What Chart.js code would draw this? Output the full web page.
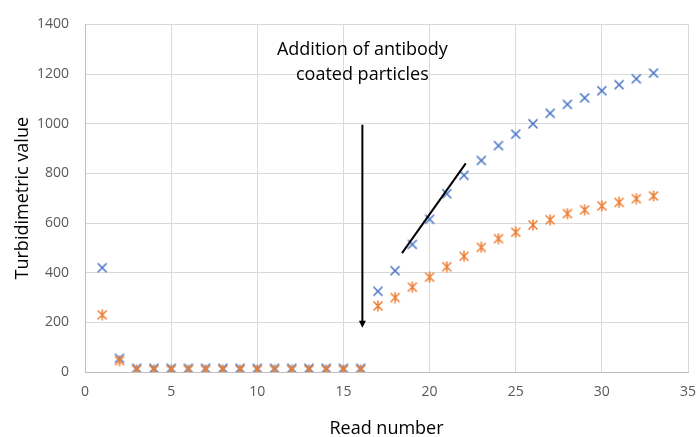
<!DOCTYPE html>
<html>
<head>
<meta charset="utf-8">
<script src="https://cdn.jsdelivr.net/npm/chart.js@4"></script>
<style>
  html, body { margin: 0; padding: 0; background: #fff; }
  #wrap { width: 696px; height: 437px; }
</style>
</head>
<body>
<div id="wrap"><canvas id="chart" width="696" height="437"></canvas></div>
<script>
// read numbers 1..33
const readNumbers = [1,2,3,4,5,6,7,8,9,10,11,12,13,14,15,16,17,18,19,20,21,22,23,24,25,26,27,28,29,30,31,32,33];
// blue series (x markers)
const seriesA = [420,55,15,15,15,15,15,15,15,15,15,15,15,15,15,15,325,408,514,615,718,792,852,912,958,1000,1042,1078,1104,1133,1157,1181,1204];
// orange series (asterisk markers)
const seriesB = [230,46,9,9,9,9,9,9,9,9,9,9,9,9,9,9,266,300,342,382,424,466,502,537,563,592,613,638,653,669,683,698,709];
const xTicks = [0,5,10,15,20,25,30,35];
const yTicks = [0,200,400,600,800,1000,1200,1400];

// annotations (data coordinates)
const noteLines = ['Addition of antibody', 'coated particles'];
const noteAt = { x: 16.1, y: [1297, 1197] };
const arrowLine = { x: 16.1, from: 996, to: 178 };
const slopeLine = [{ x: 18.4, y: 479 }, { x: 22.1, y: 840 }];

// marker images
function makeMarker(color, asterisk) {
  const c = document.createElement('canvas');
  c.width = 12; c.height = 12;
  const g = c.getContext('2d');
  g.strokeStyle = color;
  g.lineWidth = 1.5;
  g.beginPath();
  g.moveTo(1.5, 1.5); g.lineTo(10.5, 10.5);
  g.moveTo(10.5, 1.5); g.lineTo(1.5, 10.5);
  if (asterisk) { g.moveTo(6, 0.5); g.lineTo(6, 11.5); }
  g.stroke();
  return c;
}
const blueMark = makeMarker('#4472C4', false);
const orangeMark = makeMarker('#ED7D31', true);

const notes = {
  id: 'notes',
  afterDatasetsDraw(chart) {
    const { ctx, scales: { x, y } } = chart;
    ctx.save();
    ctx.fillStyle = '#000';
    ctx.font = '18px "Open Sans"';
    ctx.textAlign = 'center';
    ctx.textBaseline = 'middle';
    noteLines.forEach((t, i) => ctx.fillText(t, x.getPixelForValue(noteAt.x), y.getPixelForValue(noteAt.y[i])));

    // arrow
    const ax = x.getPixelForValue(arrowLine.x);
    const ay0 = y.getPixelForValue(arrowLine.from);
    const ay1 = y.getPixelForValue(arrowLine.to);
    ctx.strokeStyle = '#000';
    ctx.lineWidth = 2;
    ctx.beginPath();
    ctx.moveTo(ax, ay0); ctx.lineTo(ax, ay1 - 6);
    ctx.stroke();
    ctx.beginPath();
    ctx.moveTo(ax - 3.5, ay1 - 7); ctx.lineTo(ax + 3.5, ay1 - 7); ctx.lineTo(ax, ay1);
    ctx.closePath();
    ctx.fill();

    // slope line
    ctx.beginPath();
    ctx.moveTo(x.getPixelForValue(slopeLine[0].x), y.getPixelForValue(slopeLine[0].y));
    ctx.lineTo(x.getPixelForValue(slopeLine[1].x), y.getPixelForValue(slopeLine[1].y));
    ctx.stroke();
    ctx.restore();
  }
};

const pts = arr => arr.map((v, i) => ({ x: readNumbers[i], y: v }));

new Chart(document.getElementById('chart'), {
  type: 'scatter',
  data: {
    datasets: [
      { label: 'A', data: pts(seriesA), pointStyle: blueMark, order: 1 },
      { label: 'B', data: pts(seriesB), pointStyle: orangeMark, order: 0 }
    ]
  },
  options: {
    responsive: false,
    animation: false,
    layout: { padding: { top: 21, right: 0, left: 0, bottom: 0 } },
    plugins: { legend: { display: false }, tooltip: { enabled: false } },
    scales: {
      x: {
        type: 'linear', min: 0, max: 35,
        afterBuildTicks: s => { s.ticks = xTicks.map(v => ({ value: v })); },
        afterFit: s => { s.height = 65; s.paddingRight = 8; },
        grid: { color: '#d9d9d9', drawTicks: false },
        border: { color: '#bfbfbf' },
        ticks: { color: '#595959', font: { family: 'Open Sans', size: 14 }, padding: 12, callback: v => String(v) },
        title: { display: true, text: 'Read number', color: '#000', font: { family: 'Open Sans', size: 18 }, padding: { top: 0, bottom: -3 } }
      },
      y: {
        type: 'linear', min: 0, max: 1400,
        afterBuildTicks: s => { s.ticks = yTicks.map(v => ({ value: v })); },
        afterFit: s => { s.width = 85; },
        grid: { color: '#d9d9d9', drawTicks: false },
        border: { color: '#bfbfbf' },
        ticks: { color: '#595959', font: { family: 'Open Sans', size: 14 }, padding: 16, callback: v => String(v) },
        title: { display: true, text: 'Turbidimetric value', color: '#000', font: { family: 'Open Sans', size: 18 }, padding: { top: 12, bottom: 0 } }
      }
    }
  },
  plugins: [notes]
});
</script>
</body>
</html>
